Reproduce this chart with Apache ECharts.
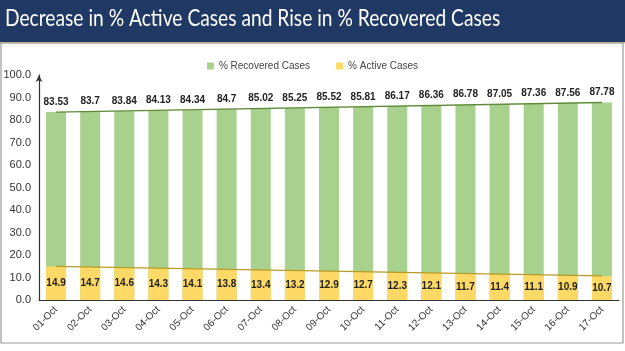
<!DOCTYPE html>
<html>
<head>
<meta charset="utf-8">
<script src="https://cdn.jsdelivr.net/npm/echarts@6/dist/echarts.min.js"></script>
<style>html,body{margin:0;padding:0;background:#fff}#c{width:625px;height:351px}</style>
</head>
<body>
<div id="c"></div>
<script>
var categories = ['01-Oct','02-Oct','03-Oct','04-Oct','05-Oct','06-Oct','07-Oct','08-Oct','09-Oct','10-Oct','11-Oct','12-Oct','13-Oct','14-Oct','15-Oct','16-Oct','17-Oct'];
var recovered = [83.53,83.7,83.84,84.13,84.34,84.7,85.02,85.25,85.52,85.81,86.17,86.36,86.78,87.05,87.36,87.56,87.78];
var active = [14.9,14.7,14.6,14.3,14.1,13.8,13.4,13.2,12.9,12.7,12.3,12.1,11.7,11.4,11.1,10.9,10.7];
var titleText = 'Decrease in % Active Cases and Rise in % Recovered Cases';

var last = categories.length - 1;
function trend(vals, color) {
  return {
    silent: true,
    symbol: ['none', 'arrow'],
    symbolSize: [0, 6],
    label: {show: false},
    lineStyle: {color: color, width: 1.3, type: 'solid'},
    data: [[{coord: [categories[0], vals[0]]}, {coord: [categories[last], vals[last]]}]]
  };
}

var chart = echarts.init(document.getElementById('c'));
chart.setOption({
  animation: false,
  graphic: [
    {type: 'rect', shape: {x: 0, y: 0, width: 625, height: 42}, style: {fill: '#1F3864'}, z: 0},
    {type: 'rect', shape: {x: 0, y: 42, width: 625, height: 1.5}, style: {fill: '#C9C28A'}, z: 0},
    {type: 'rect', shape: {x: 1, y: 43, width: 622, height: 300}, style: {fill: 'none', stroke: '#9a9a9a', lineWidth: 1.2}, z: 0},
    {type: 'text', x: 5, y: 6, scaleX: 0.8, style: {text: titleText, fill: '#ffffff', font: '24px Lato'}, z: 1}
  ],
  legend: {
    top: 56, left: 'center',
    itemWidth: 7, itemHeight: 7, itemGap: 26,
    icon: 'rect',
    textStyle: {fontSize: 10, color: '#444', fontFamily: 'Liberation Sans'},
    data: ['% Recovered Cases', '% Active Cases']
  },
  grid: {left: 39, right: 6, top: 75, bottom: 51},
  xAxis: {
    type: 'category',
    data: categories,
    axisTick: {show: false},
    axisLine: {lineStyle: {color: '#333', width: 1.2}},
    axisLabel: {rotate: 45, fontSize: 10, color: '#333', margin: 8, fontFamily: 'Liberation Sans'}
  },
  yAxis: {
    type: 'value', min: 0, max: 100, interval: 10,
    splitLine: {show: false},
    axisLine: {show: true, symbol: ['none', 'arrow'], symbolSize: [5, 7], lineStyle: {color: '#333', width: 1.2}},
    axisTick: {show: false},
    axisLabel: {fontSize: 11, color: '#333', margin: 8, fontFamily: 'Liberation Sans', formatter: function (v) { return v.toFixed(1); }}
  },
  series: [
    {
      name: '% Recovered Cases', type: 'bar', data: recovered, barWidth: 20,
      itemStyle: {color: '#A9D18E'},
      label: {show: true, position: 'top', distance: 5, fontSize: 10, fontWeight: 'bold', color: '#222', fontFamily: 'Liberation Sans'},
      markLine: trend(recovered, '#5E8A3A'),
      z: 2
    },
    {
      name: '% Active Cases', type: 'bar', data: active, barWidth: 20, barGap: '-100%',
      itemStyle: {color: '#FFD966'},
      label: {show: true, position: 'inside', fontSize: 10, fontWeight: 'bold', color: '#222', fontFamily: 'Liberation Sans'},
      markLine: trend(active, '#B59B28'),
      z: 3
    }
  ]
});
</script>
</body>
</html>
